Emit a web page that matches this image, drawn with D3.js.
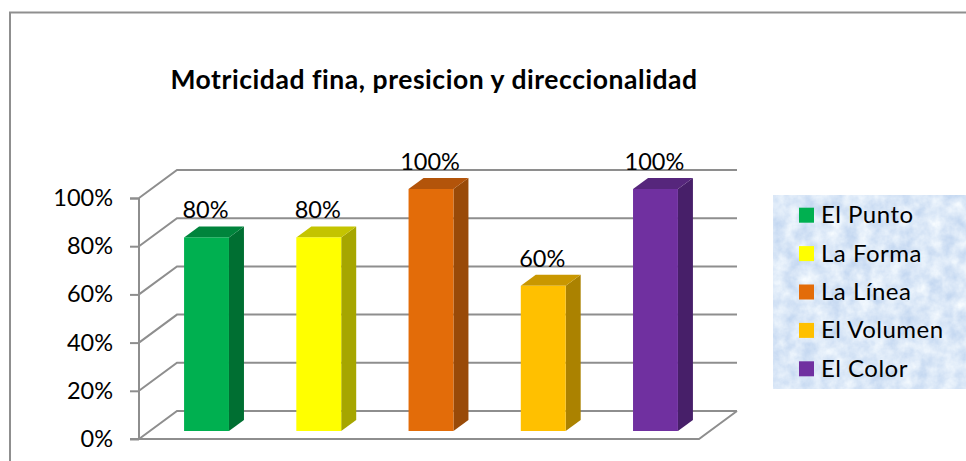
<!DOCTYPE html>
<html>
<head>
<meta charset="utf-8">
<script src="https://d3js.org/d3.v7.min.js"></script>
<style>
  html, body { margin: 0; padding: 0; background: #fff; }
  svg { display: block; }
  text { font-family: Lato, "Open Sans", sans-serif; fill: #000; }
</style>
</head>
<body>
<svg width="966" height="461"></svg>
<script>
var categories = ["El Punto", "La Forma", "La Línea", "El Volumen", "El Color"];
var values = [80, 80, 100, 60, 100];
var ticks = [0, 20, 40, 60, 80, 100];
var front = ["#00b050", "#ffff00", "#e36c09", "#ffc000", "#7030a0"];
var top3d = ["#00843c", "#c4c400", "#b3540a", "#c99700", "#56267c"];
var side = ["#006f32", "#a6a600", "#994a08", "#ab8200", "#471f69"];

var svg = d3.select("svg");
var depthX = 38, depthY = -28;   // wall offset
var barDX = 15, barDY = -11;     // bar depth

// axis runs along the front left edge
var y = d3.scaleLinear().domain([0, 100]).range([439, 198]);
var yBar = d3.scaleLinear().domain([0, 100]).range([431, 189]);
var x = d3.scaleBand().domain(categories).range([150.4, 711.6]).paddingInner(0.6).paddingOuter(0.3);
var floorRight = 699;
var gridColor = "#8e8e8e";

// outer frame
svg.append("path")
    .attr("d", "M10,461V12.5H966")
    .attr("fill", "none").attr("stroke", "#8f8f8f").attr("stroke-width", 2);

// title
svg.append("text")
    .attr("x", 434).attr("y", 88.5)
    .attr("text-anchor", "middle")
    .attr("font-size", 26.5).attr("font-weight", 700)
    .attr("letter-spacing", 0.55)
    .text("Motricidad fina, presicion y direccionalidad");

// walls and gridlines
var grid = svg.append("g").attr("fill", "none").attr("stroke", gridColor).attr("stroke-width", 2);
grid.selectAll("path.line").data(ticks).enter().append("path")
    .attr("class", "line")
    .attr("d", function(d) {
        return "M139," + y(d) + "L" + (139 + depthX) + "," + (y(d) + depthY) + "H" + (floorRight + depthX + 0);
    });
// floor
grid.append("path")
    .attr("d", "M" + 139 + "," + y(0) + "H" + floorRight + "L" + (floorRight + depthX) + "," + (y(0) + depthY));

// axis with tick marks and labels
var axis = svg.append("g")
    .attr("transform", "translate(139,0)")
    .call(d3.axisLeft(y).tickValues(ticks).tickSize(9).tickPadding(17).tickFormat(function(d) { return d + "%"; }));
axis.selectAll("path, line").attr("stroke", gridColor).attr("stroke-width", 2);
axis.selectAll("text").attr("font-size", 23.5).attr("font-family", "Lato").attr("fill", "#000");
axis.select(".domain").attr("d", "M-9,198.5H0V439H-9");

// bars
var bars = svg.selectAll("g.bar").data(categories).enter().append("g").attr("class", "bar");
bars.append("path")
    .attr("fill", function(d, i) { return side[i]; })
    .attr("d", function(d, i) {
        var r = x(d) + x.bandwidth();
        return "M" + r + "," + yBar(values[i]) + "l" + barDX + "," + barDY + "V" + (yBar(0) + barDY) + "l" + (-barDX) + "," + (-barDY) + "Z";
    });
bars.append("path")
    .attr("fill", function(d, i) { return top3d[i]; })
    .attr("d", function(d, i) {
        return "M" + x(d) + "," + yBar(values[i]) + "l" + barDX + "," + barDY + "h" + x.bandwidth() + "l" + (-barDX) + "," + (-barDY) + "Z";
    });
bars.append("rect")
    .attr("x", function(d) { return x(d); })
    .attr("y", function(d, i) { return yBar(values[i]); })
    .attr("width", x.bandwidth())
    .attr("height", function(d, i) { return yBar(0) - yBar(values[i]); })
    .attr("fill", function(d, i) { return front[i]; });
bars.append("text")
    .attr("x", function(d) { return x(d) + x.bandwidth() / 2 - 1; })
    .attr("y", function(d, i) { return yBar(values[i]) - 19; })
    .attr("text-anchor", "middle")
    .attr("font-size", 23.5)
    .text(function(d, i) { return values[i] + "%"; });

// legend, mottled blue background
var defs = svg.append("defs");
var filter = defs.append("filter").attr("id", "mottle")
    .attr("x", 0).attr("y", 0).attr("width", 1).attr("height", 1)
    .attr("color-interpolation-filters", "sRGB");
filter.append("feTurbulence").attr("type", "fractalNoise").attr("baseFrequency", 0.07).attr("numOctaves", 4).attr("seed", 4);
filter.append("feColorMatrix").attr("type", "matrix")
    .attr("values", "0.28 0 0 0 0.72  0.2 0 0 0 0.81  0.08 0 0 0 0.93  0 0 0 0 1");

svg.append("rect")
    .attr("x", 773).attr("y", 195).attr("width", 193).attr("height", 194)
    .attr("fill", "#dfeafa").attr("filter", "url(#mottle)");

var rowY = d3.scaleBand().domain(categories).range([196, 388]);
var legend = svg.selectAll("g.legend").data(categories).enter().append("g")
    .attr("class", "legend")
    .attr("transform", function(d) { return "translate(799," + (rowY(d) + rowY.bandwidth() / 2) + ")"; });
legend.append("rect")
    .attr("x", 0).attr("y", -7.5).attr("width", 15).attr("height", 15)
    .attr("fill", function(d, i) { return front[i]; });
legend.append("text")
    .attr("x", 22).attr("y", 8)
    .attr("font-size", 24)
    .attr("letter-spacing", 0.5)
    .text(function(d) { return d; });
</script>
</body>
</html>
